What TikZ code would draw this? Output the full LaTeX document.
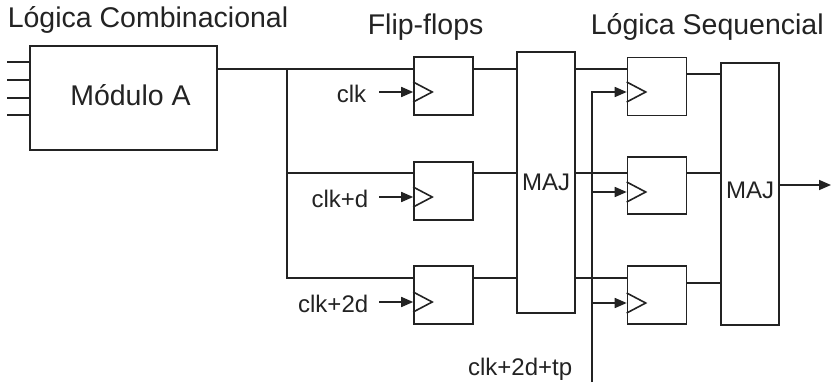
\documentclass[tikz,border=0pt]{standalone}
\usepackage{fontspec}
\setmainfont{Liberation Sans}
\usetikzlibrary{arrows.meta,calc}
\definecolor{ink}{RGB}{35,35,35}
\begin{document}
\begin{tikzpicture}[x=1pt,y=-1pt,
  line width=1.6pt, draw=ink, text=ink,
  blk/.style={draw=ink, line width=1.6pt, inner sep=0pt, rectangle},
  ffbox/.style={blk, minimum width=59pt, minimum height=58pt},
  majbox/.style={blk, minimum width=58pt, minimum height=261pt},
  ttl/.style={inner sep=0pt, font=\fontsize{28.5}{30}\selectfont},
  lbl/.style={inner sep=0pt, font=\fontsize{24}{26}\selectfont},
  arr/.style={-{Triangle[length=12pt,width=10pt]}},
  wire/.style={draw=ink, line width=1.6pt}]
\useasboundingbox (0,0) rectangle (834,385);
\fill[white] (0,0) rectangle (834,385);

% titles
\node[ttl, anchor=base west] (t1) at (7,28) {Lógica Combinacional};
\node[ttl, anchor=base west] (t2) at (367,35) {Flip-flops};
\node[ttl, anchor=base west] (t3) at (590,35) {Lógica Sequencial};

% Module A
\node[blk, minimum width=187pt, minimum height=104pt] (modA) at (123.5,98) {};
\node[ttl] (modAtxt) at (130.5,95.5) {Módulo A};
\foreach \i/\y in {1/62,2/80,3/98,4/115}{
  \coordinate (in\i) at (7,\y);
  \draw[wire] (in\i) -- (in\i -| modA.west);
}

% flip-flops column 1
\node[ffbox] (ff1) at (443.5,86) {};
\node[ffbox] (ff2) at (443.5,191) {};
\node[ffbox] (ff3) at (443.5,295) {};
% flip-flops column 2
\node[ffbox] (ff4) at (657,86.5) {};
\node[ffbox, minimum height=57pt] (ff5) at (657,185.5) {};
\node[ffbox] (ff6) at (657,295) {};

% majority voters
\node[majbox] (maj1) at (546,182.5) {};
\node[lbl] (maj1t) at (546,182) {MAJ};
\node[majbox, minimum height=262pt] (maj2) at (750,194) {};
\node[lbl] (maj2t) at (750,190) {MAJ};

% clock pins
\foreach \n/\y in {1/92,2/197,3/302,4/92,5/192,6/303}{
  \coordinate (ck\n) at (ff\n.west |- 0,\y);
  \draw[wire, line join=miter] ($(ck\n)+(0,-10)$) -- ($(ck\n)+(19,0)$) -- ($(ck\n)+(0,10)$);
}

% data wires: module A to flip-flops
\coordinate (a1) at (ff1.west |- 0,69);
\coordinate (a2) at (ff2.west |- 0,173);
\coordinate (a3) at (ff3.west |- 0,278);
\coordinate (bus) at (287,69);
\draw[wire] (a1 -| modA.east) -- (a1);
\draw[wire] (bus) -- (bus |- a3) -- (a3);
\draw[wire] (bus |- a2) -- (a2);

% flip-flops to MAJ1
\draw[wire] (a1 -| ff1.east) -- (a1 -| maj1.west);
\draw[wire] (a2 -| ff2.east) -- (a2 -| maj1.west);
\draw[wire] (a3 -| ff3.east) -- (a3 -| maj1.west);

% MAJ1 to flip-flops column 2
\draw[wire] (a1 -| maj1.east) -- (a1 -| ff4.west);
\draw[wire] (a2 -| maj1.east) -- (a2 -| ff5.west);
\draw[wire] (a3 -| maj1.east) -- (a3 -| ff6.west);

% column 2 to MAJ2
\coordinate (b1) at (ff4.east |- 0,74);
\coordinate (b2) at (ff5.east |- 0,173);
\coordinate (b3) at (ff6.east |- 0,283);
\draw[wire] (b1) -- (b1 -| maj2.west);
\draw[wire] (b2) -- (b2 -| maj2.west);
\draw[wire] (b3) -- (b3 -| maj2.west);

% output
\coordinate (out) at (831,185);
\draw[wire, arr] (out -| maj2.east) -- (out);

% clock labels and arrows
\node[lbl, anchor=east] (l1) at (367,94) {clk};
\node[lbl, anchor=east] (l2) at (369,199) {clk+d};
\node[lbl, anchor=east] (l3) at (369,304) {clk+2d};
\draw[wire, arr] (ck1 -| 379,0) -- (ck1);
\draw[wire, arr] (ck2 -| 379,0) -- (ck2);
\draw[wire, arr] (ck3 -| 379,0) -- (ck3);

% clk+2d+tp bus
\coordinate (tpbot) at (592,382);
\node[lbl, anchor=east] (l4) at (573,369) {clk+2d+tp};
\draw[wire, arr] (tpbot) |- (ck4);
\draw[wire, arr] (ck5 -| tpbot) -- (ck5);
\draw[wire, arr] (ck6 -| tpbot) -- (ck6);
\end{tikzpicture}
\end{document}
